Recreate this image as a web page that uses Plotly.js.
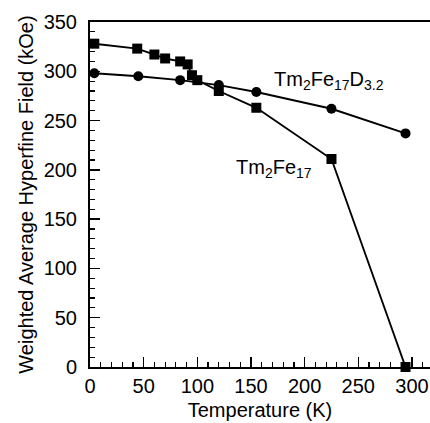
<!DOCTYPE html>
<html>
<head>
<meta charset="utf-8">
<script src="https://cdn.plot.ly/plotly-3.0.1.min.js"></script>
<style>
  html, body { margin: 0; padding: 0; background: #fff; }
  #chart { width: 430px; height: 423px; }
</style>
</head>
<body>
<div id="chart"></div>
<script>
// Tm2Fe17: weighted average hyperfine field vs temperature
const tempTm2Fe17 = [4, 44, 60, 70, 84, 91, 95, 100, 120, 155, 225, 294];
const fieldTm2Fe17 = [328, 323, 317, 313, 310, 307, 296, 291, 280, 263, 211, 0];

// Tm2Fe17D3.2 (deuteride)
const tempTm2Fe17D = [4, 45, 84, 120, 155, 225, 294];
const fieldTm2Fe17D = [298, 295, 291, 286, 279, 262, 237];

const labelPure = 'Tm<sub>2</sub>Fe<sub>17</sub>';
const labelDeut = 'Tm<sub>2</sub>Fe<sub>17</sub>D<sub>3.2</sub>';

const xTicks = [0, 50, 100, 150, 200, 250, 300];
const yTicks = [0, 50, 100, 150, 200, 250, 300, 350];

const FONT = 'Liberation Sans, Arial, Helvetica, sans-serif';

const traces = [
  {
    x: tempTm2Fe17, y: fieldTm2Fe17, name: labelPure,
    mode: 'lines+markers', type: 'scatter', cliponaxis: false,
    line: { color: '#000', width: 1.9 },
    marker: { symbol: 'square', size: 10, color: '#000' }
  },
  {
    x: tempTm2Fe17D, y: fieldTm2Fe17D, name: labelDeut,
    mode: 'lines+markers', type: 'scatter', cliponaxis: false,
    line: { color: '#000', width: 1.9 },
    marker: { symbol: 'circle', size: 10, color: '#000' }
  }
];

const axisCommon = {
  showgrid: false, zeroline: false,
  showline: true, linecolor: '#000', linewidth: 2,
  ticks: 'inside', tickcolor: '#000', tickwidth: 1.5,
  tickfont: { family: FONT, size: 20, color: '#000' },
  minor: { ticks: 'inside', ticklen: 5, tickwidth: 1.2, tickcolor: '#000', dtick: 10, showgrid: false }
};

const layout = {
  width: 430, height: 423,
  margin: { l: 90, r: 0, t: 22, b: 56 },
  paper_bgcolor: '#fff', plot_bgcolor: '#fff',
  showlegend: false,
  font: { family: FONT, color: '#000' },
  xaxis: Object.assign({}, axisCommon, {
    range: [0, 316.8], tickvals: xTicks, ticklen: 10, mirror: true,
    title: { text: 'Temperature (K)', font: { family: FONT, size: 20, color: '#000' }, standoff: 7 }
  }),
  yaxis: Object.assign({}, axisCommon, {
    range: [0, 350], tickvals: yTicks, ticklen: 10,
    ticklabelstandoff: 7,
    title: { text: 'Weighted Average Hyperfine Field (kOe)', font: { family: FONT, size: 20, color: '#000' }, standoff: 5 }
  }),
  annotations: [
    { x: 170, y: 291, xref: 'x', yref: 'y', text: labelDeut, showarrow: false,
      xanchor: 'left', yanchor: 'middle', font: { family: FONT, size: 20, color: '#000' } },
    { x: 134, y: 201, xref: 'x', yref: 'y', text: labelPure, showarrow: false,
      xanchor: 'left', yanchor: 'middle', font: { family: FONT, size: 20, color: '#000' } }
  ]
};

Plotly.newPlot('chart', traces, layout, { displayModeBar: false, staticPlot: true });
</script>
</body>
</html>
